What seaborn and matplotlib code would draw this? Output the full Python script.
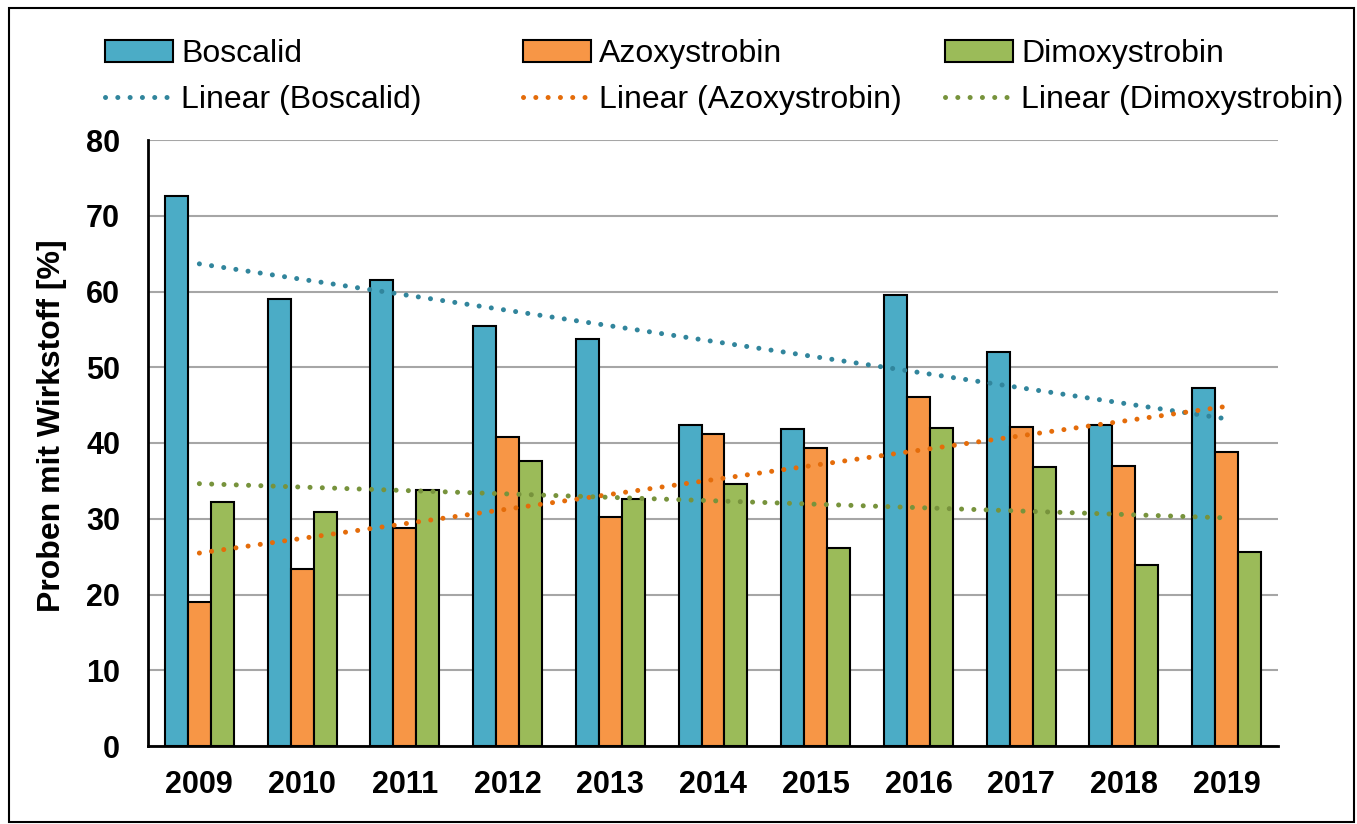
import numpy as np
import pandas as pd
import seaborn as sns
import matplotlib.pyplot as plt
from matplotlib.patches import Rectangle, Patch
from matplotlib.lines import Line2D

# Share of samples containing each active ingredient, per year
years = ["2009", "2010", "2011", "2012", "2013", "2014",
         "2015", "2016", "2017", "2018", "2019"]
boscalid = [72.6, 59.0, 61.5, 55.4, 53.7, 42.4, 41.8, 59.5, 52.0, 42.4, 47.3]
azoxystrobin = [19.0, 23.4, 28.8, 40.8, 30.2, 41.2, 39.3, 46.1, 42.1, 37.0, 38.8]
dimoxystrobin = [32.2, 30.9, 33.8, 37.6, 32.6, 34.6, 26.1, 42.0, 36.8, 23.9, 25.6]
series_names = ["Boscalid", "Azoxystrobin", "Dimoxystrobin"]

bar_colors = ["#4BACC6", "#F79646", "#9BBB59"]
trend_colors = ["#31859C", "#E46C0A", "#77933C"]

df = pd.DataFrame({
    "Jahr": years * 3,
    "Wert": boscalid + azoxystrobin + dimoxystrobin,
    "Wirkstoff": [n for n in series_names for _ in years],
})

sns.set_theme(style="white")
plt.rcParams["font.family"] = ["Liberation Sans", "DejaVu Sans"]
plt.rcParams.update({"text.color": "black", "axes.labelcolor": "black",
                     "xtick.color": "black", "ytick.color": "black"})

W, H = 1357, 824
fig = plt.figure(figsize=(W / 100, H / 100), dpi=100)
ax = fig.add_axes([148 / W, 1 - 746 / H, (1278 - 148) / W, (746 - 140) / H])

sns.barplot(data=df, x="Jahr", y="Wert", hue="Wirkstoff", order=years,
            hue_order=series_names, palette=bar_colors, width=0.67,
            edgecolor="black", linewidth=1.5, saturation=1, ax=ax,
            legend=False, errorbar=None)

# Linear trend lines for each series
xpos = np.arange(len(years))
for vals, col in zip([boscalid, azoxystrobin, dimoxystrobin], trend_colors):
    k, d = np.polyfit(xpos, vals, 1)
    ax.plot(xpos, k * xpos + d, color=col, lw=3.6,
            linestyle=(0, (0.01, 2.45)), dash_capstyle="round", zorder=5)

ax.set_xlim(-0.5, len(years) - 0.5)
ax.set_ylim(0, 80)
ax.set_yticks(range(0, 81, 10))
ax.set_axisbelow(True)
ax.yaxis.grid(True, color="#A6A6A6", lw=1.5)
ax.xaxis.grid(False)
for s in ["top", "right"]:
    ax.spines[s].set_visible(False)
for s in ["left", "bottom"]:
    ax.spines[s].set_color("black")
    ax.spines[s].set_linewidth(2)
ax.tick_params(axis="both", length=0, labelsize=22)
ax.tick_params(axis="y", pad=20)
ax.tick_params(axis="x", pad=17)
for lbl in ax.get_xticklabels() + ax.get_yticklabels():
    lbl.set_fontweight("bold")
ax.set_xlabel("")
ax.set_ylabel("Proben mit Wirkstoff [%]", fontsize=23, fontweight="bold")
ax.yaxis.set_label_coords(-0.072, 0.528)

# Legend: one column per ingredient (bar above its trend line)
col_x = [105, 523, 945]
for name, bc, tc, x0 in zip(series_names, bar_colors, trend_colors, col_x):
    handles = [Patch(facecolor=bc, edgecolor="black", linewidth=1.5),
               Line2D([0], [0], color=tc, lw=3.6, linestyle=(0, (0.01, 2.45)),
                      dash_capstyle="round")]
    fig.legend(handles, [name, f"Linear ({name})"], loc="upper left",
               bbox_to_anchor=(x0 / W, 1 - 39 / H), frameon=False,
               fontsize=23, handlelength=2.13, handletextpad=0.25,
               labelspacing=0.5, borderaxespad=0, borderpad=0)

# Outer frame around the figure
fig.patches.append(Rectangle((9 / W, 2 / H), 1345 / W, 814 / H,
                             transform=fig.transFigure, fill=False,
                             edgecolor="black", lw=1.5))

fig.savefig("out.png", dpi=100)
